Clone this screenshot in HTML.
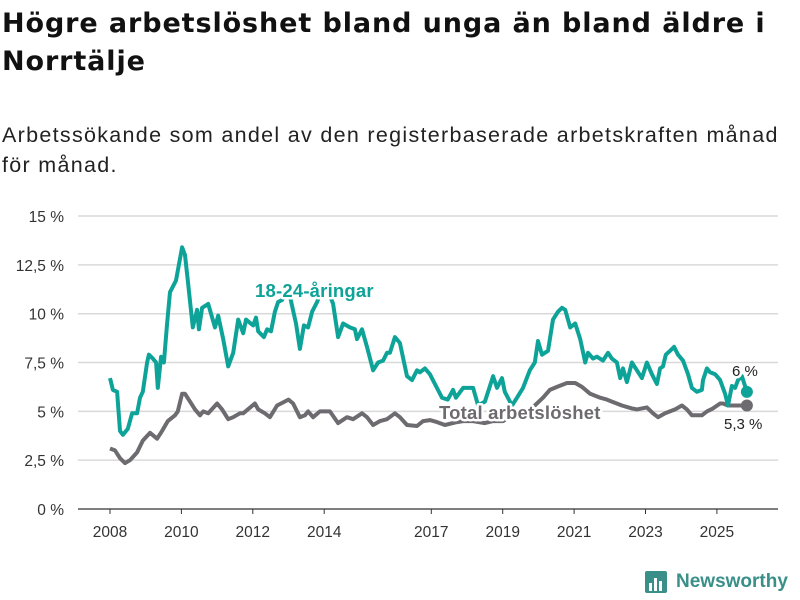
<!DOCTYPE html>
<html><head><meta charset="utf-8">
<style>
body{margin:0;background:#fff;width:800px;height:600px;overflow:hidden;font-family:"Liberation Sans",sans-serif;color:#111}
#title{position:absolute;left:2px;top:5px;font-family:"DejaVu Sans",sans-serif;font-size:27px;font-weight:bold;line-height:38px;white-space:nowrap;letter-spacing:0.9px}
#subtitle{position:absolute;left:2px;top:120px;font-size:21.5px;line-height:30px;white-space:nowrap;color:#222;letter-spacing:1.3px}
svg{position:absolute;left:0;top:0}
.lbl{paint-order:stroke;stroke:#fff;stroke-width:5px;stroke-linejoin:round}
</style></head><body>
<div id="title">Högre arbetslöshet bland unga än bland äldre i<br>Norrtälje</div>
<div id="subtitle">Arbetssökande som andel av den registerbaserade arbetskraften månad<br>för månad.</div>
<svg id="chart" width="800" height="600"></svg>
<script>
const yTicks=[0,2.5,5,7.5,10,12.5,15];
const yTickLabels=["0 %","2,5 %","5 %","7,5 %","10 %","12,5 %","15 %"];
const xTicks=[2008,2010,2012,2014,2017,2019,2021,2023,2025];
const youthDates=[2008.00,2008.08,2008.20,2008.28,2008.36,2008.50,2008.62,2008.76,2008.84,2008.92,2009.04,2009.09,2009.20,2009.29,2009.34,2009.43,2009.51,2009.60,2009.68,2009.85,2009.90,2010.02,2010.10,2010.18,2010.32,2010.44,2010.49,2010.58,2010.75,2010.94,2011.03,2011.17,2011.31,2011.45,2011.59,2011.73,2011.81,2012.01,2012.09,2012.15,2012.31,2012.40,2012.51,2012.62,2012.71,2012.82,2012.93,2013.04,2013.21,2013.32,2013.43,2013.55,2013.66,2013.80,2013.94,2014.08,2014.25,2014.39,2014.53,2014.72,2014.86,2014.92,2015.06,2015.20,2015.37,2015.51,2015.65,2015.76,2015.84,2015.98,2016.12,2016.32,2016.46,2016.60,2016.68,2016.82,2016.96,2017.10,2017.30,2017.46,2017.61,2017.69,2017.89,2018.17,2018.31,2018.50,2018.73,2018.84,2018.98,2019.06,2019.26,2019.40,2019.57,2019.76,2019.90,2019.99,2020.10,2020.27,2020.41,2020.55,2020.66,2020.75,2020.89,2021.03,2021.17,2021.31,2021.39,2021.53,2021.64,2021.81,2021.95,2022.06,2022.20,2022.29,2022.37,2022.48,2022.62,2022.76,2022.90,2023.04,2023.18,2023.32,2023.41,2023.49,2023.57,2023.69,2023.80,2023.91,2024.05,2024.19,2024.30,2024.44,2024.58,2024.61,2024.72,2024.81,2024.95,2025.09,2025.23,2025.31,2025.42,2025.51,2025.59,2025.70,2025.84];
const youthValues=[6.7,6.1,6.0,4.0,3.8,4.1,4.9,4.9,5.7,6.0,7.5,7.9,7.7,7.5,6.2,7.8,7.5,9.5,11.1,11.7,12.2,13.4,13.0,11.7,9.3,10.2,9.2,10.3,10.5,9.3,9.9,8.7,7.3,8.0,9.7,9.0,9.7,9.4,9.8,9.1,8.8,9.2,9.1,10.1,10.6,10.7,11.2,10.9,9.5,8.2,9.4,9.3,10.1,10.6,11.3,11.3,10.5,8.8,9.5,9.3,9.2,8.7,9.2,8.3,7.1,7.5,7.6,8.0,8.0,8.8,8.5,6.8,6.6,7.1,7.0,7.2,6.9,6.4,5.7,5.6,6.1,5.7,6.2,6.2,5.3,5.5,6.8,6.2,6.7,6.0,5.3,5.7,6.2,7.1,7.5,8.6,7.9,8.1,9.7,10.1,10.3,10.2,9.3,9.5,8.7,7.5,8.0,7.7,7.8,7.6,8.0,7.7,7.5,6.7,7.2,6.5,7.5,7.1,6.7,7.5,6.9,6.4,7.2,7.3,7.9,8.1,8.3,7.9,7.6,6.9,6.2,6.0,6.1,6.6,7.2,7.0,6.9,6.6,5.9,5.3,6.3,6.2,6.6,6.8,6.0];
const totalDates=[2008.00,2008.14,2008.28,2008.42,2008.56,2008.76,2008.92,2009.12,2009.32,2009.46,2009.62,2009.82,2009.90,2010.02,2010.10,2010.24,2010.38,2010.52,2010.61,2010.75,2011.00,2011.14,2011.31,2011.45,2011.64,2011.73,2012.06,2012.15,2012.34,2012.48,2012.68,2013.00,2013.13,2013.32,2013.46,2013.55,2013.69,2013.88,2014.16,2014.39,2014.64,2014.81,2015.06,2015.20,2015.37,2015.56,2015.76,2015.98,2016.12,2016.32,2016.60,2016.77,2016.96,2017.16,2017.38,2017.72,2017.89,2018.17,2018.50,2018.73,2019.01,2019.26,2019.57,2019.90,2020.13,2020.32,2020.52,2020.80,2021.03,2021.22,2021.45,2021.73,2021.92,2022.06,2022.34,2022.62,2022.76,2023.04,2023.21,2023.35,2023.55,2023.83,2024.02,2024.16,2024.30,2024.44,2024.58,2024.72,2024.89,2025.09,2025.17,2025.31,2025.84];
const totalValues=[3.1,3.0,2.6,2.35,2.5,2.9,3.5,3.9,3.6,4.0,4.5,4.8,5.0,5.9,5.9,5.5,5.1,4.8,5.0,4.9,5.4,5.1,4.6,4.7,4.9,4.9,5.4,5.1,4.9,4.7,5.3,5.6,5.4,4.7,4.8,5.0,4.7,5.0,5.0,4.4,4.7,4.6,4.9,4.7,4.3,4.5,4.6,4.9,4.7,4.3,4.25,4.5,4.55,4.45,4.3,4.45,4.5,4.5,4.4,4.5,4.5,4.8,5.0,5.3,5.7,6.1,6.25,6.45,6.45,6.25,5.9,5.7,5.6,5.5,5.3,5.15,5.1,5.2,4.9,4.7,4.9,5.1,5.3,5.1,4.8,4.8,4.8,5.0,5.15,5.4,5.4,5.3,5.3];

const NS='http://www.w3.org/2000/svg';
const svg=document.getElementById('chart');
const X=t=>110+(t-2008)*35.7;
const Y=v=>509-v*19.53;
function mk(tag,attrs,parent){const e=document.createElementNS(NS,tag);for(const k in attrs)e.setAttribute(k,attrs[k]);(parent||svg).appendChild(e);return e;}

yTicks.forEach((v,i)=>{
  const g=mk('line',{x1:78,x2:778,y1:Y(v),y2:Y(v),stroke:v===0?'#333':'#d9d9d9','stroke-width':v===0?1.2:1.5});
  
  
  const t=mk('text',{x:64,y:Y(v)+6,'text-anchor':'end','font-size':15.5,fill:'#333'});
  t.textContent=yTickLabels[i];
  
  
});
xTicks.forEach(yr=>{
  const tk=mk('line',{x1:X(yr),x2:X(yr),y1:509,y2:514,stroke:'#333','stroke-width':1});
  
  
  const t=mk('text',{x:X(yr),y:537,'text-anchor':'middle','font-size':15.5,fill:'#333'});
  t.textContent=yr;
  
  
});
function path(d,v){return d.map((t,i)=>(i?'L':'M')+X(t).toFixed(1)+','+Y(v[i]).toFixed(1)).join('');}
const tl=mk('path',{d:path(totalDates,totalValues),fill:'none',stroke:'#6d6b70','stroke-width':4,'stroke-linejoin':'round'});


const yl=mk('path',{d:path(youthDates,youthValues),fill:'none',stroke:'#0ea398','stroke-width':4,'stroke-linejoin':'round'});


const td=mk('circle',{cx:X(totalDates[totalDates.length-1]),cy:Y(totalValues[totalValues.length-1]),r:6,fill:'#6d6b70'});


const yd=mk('circle',{cx:X(youthDates[youthDates.length-1]),cy:Y(youthValues[youthValues.length-1]),r:6,fill:'#0ea398'});



function label(txt,x,y,opts,name){const t=mk('text',Object.assign({x:x,y:y,class:'lbl'},opts));t.textContent=txt;
  
  }
label('18-24-åringar',255,297,{'font-size':18.5,'font-weight':'bold',fill:'#0ea398','letter-spacing':0.2},'youth-series-label');
label('Total arbetslöshet',439,419,{'font-size':18.5,'font-weight':'bold',fill:'#6d6b70','letter-spacing':0.2},'total-series-label');
label('6 %',732,376,{'font-size':15,fill:'#222'},'youth-end-value');
label('5,3 %',724,429,{'font-size':15,fill:'#222'},'total-end-value');
</script>
<div style="position:absolute;left:645px;top:569px;height:26px;display:flex;align-items:center">
<svg width="24" height="26" style="position:static"><rect x="0" y="2" width="22" height="22" rx="2" fill="#3a8f89"/><rect x="4" y="14" width="3" height="8" fill="#fff"/><rect x="9" y="9" width="3" height="13" fill="#fff"/><rect x="14" y="12" width="3" height="10" fill="#fff"/></svg>
<span style="font-size:19px;font-weight:bold;color:#3a8f89;margin-left:7px">Newsworthy</span></div>
</body></html>
